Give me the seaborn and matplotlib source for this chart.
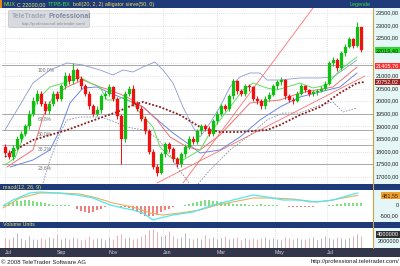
import numpy as np
import matplotlib
matplotlib.use("Agg")
import matplotlib.pyplot as plt
import matplotlib.transforms as mtrans
from matplotlib.patches import Rectangle, FancyBboxPatch
from matplotlib import font_manager
import seaborn as sns

sns.set_theme(style="white")


def has_font(name):
    try:
        font_manager.findfont(font_manager.FontProperties(family=name), fallback_to_default=False)
        return True
    except Exception:
        return False


BASE = "Liberation Sans" if has_font("Liberation Sans") else "DejaVu Sans"
NARROW = "Liberation Sans Narrow" if has_font("Liberation Sans Narrow") else BASE
plt.rcParams['font.family'] = [BASE, 'DejaVu Sans']

# ---------------- data ----------------
opens = [18200, 17950, 17800, 18150, 18500, 18700, 19000, 19500, 20000, 20300,
         19900, 19600, 19900, 20300, 20100, 20600, 21000, 20800, 21250, 20900,
         20600, 20300, 19800, 19500, 19650, 20200, 20300, 20550, 20100, 19400,
         18500, 20300, 20500, 19900, 19700, 19300, 18800, 18000, 17400, 17150,
         17900, 18300, 18100, 17700, 17500, 17900, 18200, 18500, 18400, 18800,
         19000, 18900, 18700, 19200, 19500, 19800, 19700, 20200, 20800, 20400,
         20300, 20600, 20550, 20100, 20000, 19800, 20100, 20250, 20600, 20750,
         20850, 20200, 20050, 20000, 20300, 20600, 20450, 20300, 20350, 20400,
         20500, 20700, 21500, 21650, 21300, 21900, 22150, 22450, 22200, 22950]
closes = [17950, 17800, 18150, 18500, 18700, 19000, 19500, 20000, 20300, 19900,
          19600, 19900, 20300, 20100, 20600, 21000, 20800, 21250, 20900, 20600,
          20300, 19800, 19500, 19650, 20200, 20300, 20550, 20100, 19400, 18500,
          20300, 20500, 19900, 19700, 19300, 18800, 18000, 17400, 17150, 17900,
          18300, 18100, 17700, 17500, 17900, 18200, 18500, 18400, 18800, 19000,
          18900, 18700, 19200, 19500, 19800, 19700, 20200, 20800, 20400, 20300,
          20600, 20550, 20100, 20000, 19800, 20100, 20250, 20600, 20750, 20850,
          20200, 20050, 20000, 20300, 20600, 20450, 20300, 20350, 20400, 20500,
          20700, 21500, 21650, 21300, 21900, 22150, 22450, 22200, 22950, 22019.4]
highs = [18300, 18050, 18250, 18600, 18800, 19100, 19650, 20150, 20450, 20400,
         20000, 20000, 20400, 20400, 20700, 21150, 21100, 21500, 21300, 21000,
         20700, 20400, 19900, 19800, 20300, 20400, 20700, 20600, 20150, 19500,
         20400, 20600, 20650, 20000, 19800, 19400, 18900, 18100, 17500, 18000,
         18400, 18400, 18200, 17800, 18000, 18300, 18600, 18600, 18900, 19100,
         19100, 19000, 19300, 19600, 19900, 19900, 20300, 20900, 20850, 20500,
         20700, 20700, 20600, 20200, 20100, 20200, 20350, 20700, 20850, 20950,
         20900, 20300, 20150, 20400, 20700, 20650, 20500, 20450, 20500, 20600,
         20800, 21600, 21750, 21700, 22000, 22250, 22550, 22500, 23150, 22950]
lows = [17850, 17700, 17650, 18050, 18400, 18600, 18900, 19400, 19900, 19800,
        19500, 19500, 19800, 20000, 20000, 20500, 20700, 20700, 20800, 20500,
        20200, 19700, 19400, 19400, 19550, 20100, 20200, 20000, 19300, 17500,
        18400, 20200, 19800, 19600, 19200, 18700, 17900, 17300, 17050, 17100,
        17800, 18000, 17600, 17400, 17400, 17800, 18100, 18300, 18300, 18700,
        18800, 18600, 18600, 19100, 19400, 19600, 19600, 20100, 20300, 20200,
        20200, 20400, 20000, 19900, 19700, 19700, 20000, 20200, 20500, 20650,
        20100, 19950, 19900, 19950, 20250, 20350, 20200, 20200, 20250, 20350,
        20450, 20650, 21400, 21200, 21250, 21800, 22100, 22100, 22150, 21950]

# overlay lines read at sparse points (x = bar index, y = price)
lips_x = [0, 2.5, 5, 8, 11.25, 15.5, 18.75, 21.25, 23.75, 25.5, 28, 29.5, 32, 33.75, 37, 38.75, 41.25,
          44.5, 48.75, 51.25, 53.75, 56.25, 59.5, 62, 65.5, 68, 70.5, 73.75, 77, 80.5, 83.75, 88]
lips_y = [17469, 17746, 18738, 20048, 20564, 20762, 20960, 20722, 20564, 20048, 20048, 20167, 19929, 19532,
          18976, 18183, 17786, 17667, 18064, 18738, 19254, 19770, 20445, 20722, 20524, 20445, 20564, 20722,
          20524, 20643, 21238, 21754]
teeth_x = [0.5, 7, 9.5, 12, 15.5, 19.5, 23.75, 26.25, 30.5, 34.5, 38, 41.25, 45.5, 48.75, 53.75, 61.25,
           68.75, 73.75, 82, 88]
teeth_y = [17389, 18064, 19373, 20167, 20564, 20841, 20564, 20445, 20167, 19770, 19254, 18580, 18183,
           18064, 18659, 19929, 20048, 20326, 20564, 21357]
jaw_x = [1.25, 7, 11.25, 13.75, 16.25, 19.5, 23, 26.25, 30.5, 34.5, 38.75, 42, 45.5, 48.75, 53.75, 58.75,
         63.75, 68.75, 73.75, 78.75, 83.75, 88]
jaw_y = [17389, 17667, 18064, 18857, 19929, 20524, 20564, 20326, 20048, 19770, 19175, 18738, 18342, 17945,
         18064, 18580, 19254, 19770, 20167, 20365, 20564, 21119]
upper_x = [0, 3.75, 7, 11.25, 15.5, 19.5, 23.75, 27, 29.5, 32, 34.5, 37.5, 39.5, 42, 44.5, 47, 48.75,
           51.25, 53.75, 56.25, 58.75, 61.25, 63.75, 65.5, 68.75, 73.75, 78.75, 82, 84.5, 88]
upper_y = [18857, 19849, 20722, 21238, 21516, 21437, 21238, 21040, 21238, 21159, 21357, 21556, 21238,
           20722, 19770, 18976, 18580, 19135, 19770, 20564, 20960, 21119, 21119, 20841, 20841, 20921,
           20921, 20960, 21238, 21635]
lower_x = [9.5, 11.25, 13.75, 15.5, 18.75, 23.75, 26.25, 30.5, 34.5, 38, 40.5, 43, 45.5, 47, 51.25,
           56.25, 61.25, 65.5, 69.5, 73.75, 78.75, 82, 84.5, 88]
lower_y = [16754, 17667, 18738, 19254, 19373, 19373, 19254, 18976, 18857, 18540, 18064, 17389, 16873,
           16476, 17270, 18064, 18659, 19254, 19532, 19532, 19849, 19968, 19572, 19730]
sma_x = [0, 1.25, 7, 15.5, 23.75, 28, 32, 34.5, 38.75, 43.75, 48.75, 53.75, 58.75, 65.5, 68.75, 73.75,
         78.75, 83.75, 88, 90]
sma_y = [17786, 17944, 18460, 18857, 19334, 19572, 19850, 19968, 19770, 19453, 18976, 18778, 18778,
         18857, 19056, 19453, 19770, 20326, 20722, 20762]
trend1_x = [44.5, 77]
trend1_y = [16754, 23698]
trend2_x = [38, 90]
trend2_y = [16754, 21000]

fib_levels = [21420, 19480, 18870, 18270, 17520]
fib_labels = ["100,0%", "61,8%", "50,0%", "38,2%", "23,6%"]

macd_x = [-0.5, 2, 6.25, 8.75, 13, 18, 22, 26.25, 29.5, 32, 34.5, 37, 38.75, 42, 47, 52, 57, 62, 65.5,
          69.5, 73.75, 78, 82, 86.25, 88.25]
macd_y = [-24, 262, 595, 643, 595, 500, 357, 24, -119, -214, -357, -690, -595, -452, -309, 24, 262, 500,
          405, 262, 262, 167, 262, 500, 595]
signal_x = [-0.5, 3.75, 8.75, 13.75, 18.75, 23, 27, 32, 36.25, 39.5, 43.75, 48.75, 53, 57, 62, 67, 72,
            76.25, 80.5, 84.5, 88.25]
signal_y = [-119, 357, 595, 595, 547, 357, 119, -71, -357, -452, -357, -214, 24, 167, 357, 357, 309, 167,
            214, 357, 481.55]
hist = [60, 100, 150, 200, 230, 240, 240, 220, 190, 150, 110, 70, 40,
        30, 20, 10, 10, -20,
        -150, -250, -330, -350, -300, -220, -150, -80,
        -40, -30, -60, -80, -50,
        -120, -200, -300, -400, -480, -520, -500, -430, -330, -230,
        -150, -80, -30, -10,
        40, 80, 130, 180, 220, 240, 240, 220, 200, 170, 140, 110, 90, 70, 60, 50, 40, 30,
        40, 50, 40, 30, 20, 10,
        -20, -40, -60, -80, -90, -90, -80, -60, -50, -40, -30, -10,
        20, 40, 60, 80, 100, 110, 120, 110, 100]
volume_m = [3.2, 2.8, 3.5, 4.9, 3.1, 2.6, 3.8, 3.0, 2.7, 3.4,
            2.9, 3.6, 3.1, 4.6, 2.8, 3.3, 2.9, 3.7, 3.2, 2.6,
            3.0, 3.9, 2.8, 3.4, 3.1, 2.7, 3.5, 3.0, 4.2, 4.4,
            3.3, 3.6, 2.9, 3.2, 3.8, 4.5, 5.8, 6.3, 5.2, 3.9,
            4.1, 5.6, 4.0, 3.3, 3.6, 4.8, 3.1, 2.9, 3.4, 3.0,
            4.1, 3.2, 3.5, 2.8, 3.3, 3.9, 2.9, 3.1, 3.6, 2.7,
            3.2, 3.0, 3.4, 2.8, 3.1, 3.5, 2.9, 3.3, 3.0, 2.7,
            3.6, 3.1, 2.8, 3.4, 3.0, 2.9, 3.2, 3.5, 2.7, 3.1,
            3.8, 3.3, 3.0, 3.6, 3.2, 2.9, 3.4, 3.9, 4.5, 4.0]
month_labels = ["Jul", "Sep", "Nov", "Jan", "Mar", "May", "Jul"]
month_pos = [0, 13, 26, 39.5, 53, 67.5, 80.5]
price_ticks = [17000, 17500, 18000, 18500, 19000, 19500, 20000, 20500, 21000, 22500, 23000, 23500]
marker_values = [22019.40, 21405.76, 20752.02]

# ---------------- figure ----------------
W, H = 400, 266
fig = plt.figure(figsize=(4.0, 2.66), dpi=100)
fig.patch.set_facecolor("white")


def rect(x0, y0, x1, y1):
    return [x0 / W, 1 - y1 / H, (x1 - x0) / W, (y1 - y0) / H]


bg = fig.add_axes([0, 0, 1, 1], zorder=0)
bg.set_xlim(0, W); bg.set_ylim(H, 0); bg.axis("off")
NAVY = "#1e3a78"
bg.add_patch(Rectangle((373, 8), 27, 240, fc="#e4f6f6", ec="none"))
bg.plot([373, 373], [8, 248], color="#d8a040", lw=0.8)
for (y0, y1) in [(0, 8), (184, 190), (222, 227.5)]:
    bg.add_patch(Rectangle((0, y0), W, y1 - y0, fc=NAVY, ec="none"))
bg.add_patch(Rectangle((0, 0), 2, 8, fc="#e08a20", ec="none"))
bg.add_patch(Rectangle((0, 248), W, 9, fc="#33364a", ec="none"))

N = len(closes)
idx = np.arange(N)
XL = (-0.75, 92)
TFS = 4.0

# ---------------- main price panel ----------------
ax = fig.add_axes(rect(2, 8, 373, 184), zorder=1)
ax.set_facecolor("none")
ax.set_xlim(*XL)
ax.set_ylim(16714, 23698)
for v in range(17000, 23501, 500):
    ax.axhline(v, color="#c8c8c8", lw=0.5, ls=(0, (1, 2)), zorder=0)
for p in month_pos:
    ax.axvline(p, color="#c8c8c8", lw=0.5, ls=(0, (1, 2)), zorder=0)
for lv, lb in zip(fib_levels, fib_labels):
    ax.axhline(lv, color="#a8a8a8", lw=0.7, zorder=1)
    ax.text(8.2, lv - 60, lb, fontsize=3.6, color="#707070", va="top", ha="left", zorder=2)

line_kw = dict(estimator=None, sort=False, legend=False, ax=ax)
sns.lineplot(x=trend1_x, y=trend1_y, color="#ff7070", linewidth=0.6, **line_kw)
sns.lineplot(x=trend2_x, y=trend2_y, color="#ff7070", linewidth=0.6, **line_kw)
sns.lineplot(x=upper_x, y=upper_y, color="#8c9ad0", linewidth=0.6, **line_kw)
sns.lineplot(x=lower_x, y=lower_y, color="#8890a8", linewidth=0.6, linestyle=(0, (2, 1.5)), **line_kw)
sns.lineplot(x=jaw_x, y=jaw_y, color="#6a88e0", linewidth=0.7, **line_kw)
sns.lineplot(x=teeth_x, y=teeth_y, color="#f07070", linewidth=0.7, **line_kw)
sns.lineplot(x=lips_x, y=lips_y, color="#60e060", linewidth=0.7, **line_kw)
sns.lineplot(x=sma_x, y=sma_y, color="#8b1a1a", linewidth=1.3, linestyle=(0, (1, 1)), **line_kw)

o = np.array(opens, float); c = np.array(closes, float)
up = c >= o
cols = np.where(up, "#10c010", "#f01010")
ax.vlines(idx, lows, highs, colors=cols, lw=0.7, zorder=4)
body_lo = np.minimum(o, c); body_h = np.maximum(np.abs(c - o), 25)
ax.bar(idx, body_h, bottom=body_lo, width=0.75, color=cols, edgecolor=cols, linewidth=0.2, zorder=5)
ax.set_xlabel(""); ax.set_ylabel("")
ax.set_xticks([]); ax.set_yticks([])
for s in ax.spines.values():
    s.set_visible(False)

blend = mtrans.blended_transform_factory(ax.transAxes, ax.transData)
xr = (399 - 2) / 371
for v in price_ticks:
    ax.text(xr, v, f"{v:.2f}".replace(".", ","), transform=blend, ha="right", va="center",
            fontsize=TFS, color="#202020", clip_on=False)
for val, fc, tc in zip(marker_values, ["#30d830", "#ff3030", "#a02020"], ["#003000", "#ffffff", "#ffffff"]):
    ax.text(xr, val, f"{val:.2f}".replace(".", ","), transform=blend, ha="right", va="center",
            fontsize=TFS, color=tc, clip_on=False, zorder=10,
            bbox=dict(boxstyle="square,pad=0.12", fc=fc, ec="none"))

# ---------------- MACD panel ----------------
am = fig.add_axes(rect(2, 190, 373, 222), zorder=1)
am.set_facecolor("none")
am.set_xlim(*XL)
am.set_ylim(-785, 738)
for p in month_pos:
    am.axvline(p, color="#c8c8c8", lw=0.5, ls=(0, (1, 2)), zorder=0)
h = np.array(hist, float)
am.bar(idx, h, width=0.6, color=np.where(h >= 0, "#7ee07e", "#f08080"), linewidth=0, zorder=2)
sns.lineplot(x=signal_x, y=signal_y, color="#e8b060", linewidth=0.8, estimator=None, sort=False,
             legend=False, ax=am)
sns.lineplot(x=macd_x, y=macd_y, color="#50e8f0", linewidth=0.9, estimator=None, sort=False,
             legend=False, ax=am)
am.set_xlabel(""); am.set_ylabel("")
am.set_xticks([]); am.set_yticks([])
for s in am.spines.values():
    s.set_visible(False)
bm = mtrans.blended_transform_factory(am.transAxes, am.transData)
am.text(xr, 0, "0", transform=bm, ha="right", va="center", fontsize=TFS, color="#202020", clip_on=False)
am.text(xr, -500, "-500,00", transform=bm, ha="right", va="center", fontsize=TFS, color="#202020",
        clip_on=False)
am.text(xr, 481.55, "481,55", transform=bm, ha="right", va="center", fontsize=TFS, color="#402000",
        clip_on=False, bbox=dict(boxstyle="square,pad=0.12", fc="#f0a030", ec="none"))

# ---------------- volume panel ----------------
av = fig.add_axes(rect(2, 227.5, 373, 248), zorder=1)
av.set_facecolor("none")
av.set_xlim(*XL)
av.set_ylim(0, 6.67e6)
for p in month_pos:
    av.axvline(p, color="#c8c8c8", lw=0.5, ls=(0, (1, 2)), zorder=0)
vol = np.array(volume_m) * 1e6
av.vlines(idx, 0, vol, colors=np.where(up, "#a8a8b0", "#e8a0a8"), lw=0.6)
av.set_xticks([]); av.set_yticks([])
for s in av.spines.values():
    s.set_visible(False)
bv = mtrans.blended_transform_factory(av.transAxes, av.transData)
av.text(xr, 2e6, "2000000", transform=bv, ha="right", va="center", fontsize=TFS, color="#202020",
        clip_on=False)
av.text(xr, 4.35e6, f"{int(vol[-1])}", transform=bv, ha="right", va="center", fontsize=TFS,
        color="#ffffff", clip_on=False, bbox=dict(boxstyle="square,pad=0.12", fc="#303030", ec="none"))
bx = mtrans.blended_transform_factory(av.transData, fig.transFigure)
for p, lb in zip(month_pos, month_labels):
    av.text(p, 1 - 252.5 / H, lb, transform=bx, ha="left", va="center", fontsize=3.8,
            color="#d0d0d8", clip_on=False)

# ---------------- overlay texts ----------------
ov = fig.add_axes([0, 0, 1, 1], zorder=5)
ov.set_xlim(0, W); ov.set_ylim(H, 0); ov.axis("off")
ov.patch.set_alpha(0)
renderer = fig.canvas.get_renderer()


def seq_text(x, y, parts, fs, family):
    """write coloured text pieces one after another"""
    for txt, col in parts:
        t = ov.text(x, y, txt, color=col, fontsize=fs, va="center", ha="left", family=family)
        bb = t.get_window_extent(renderer=renderer)
        x += bb.width * W / fig.bbox.width + 2.2


seq_text(3, 4.3, [("MUX", "#90e040"), ("C 22000,00", "#f0f060"), ("TTPB-BX", "#40e040"),
                  ("boll(20, 2, 2) alligator sieve(50, 0)", "#f0e060")], 3.9, NARROW)
ov.text(371, 4.3, "Legende", color="#40e040", fontsize=3.9, va="center", ha="right", family=NARROW)
ov.text(3, 187.2, "macd(12, 26, 9)", color="#f0e060", fontsize=3.9, va="center", family=NARROW)
ov.text(3, 225, "Volume Units", color="#f0e060", fontsize=3.9, va="center", family=NARROW)
ov.add_patch(FancyBboxPatch((9, 11), 80, 16, boxstyle="round,pad=0.5,rounding_size=1.5",
                            fc="#d4d6da", ec="#b8bcc4", lw=0.5, alpha=0.9))
t1 = ov.text(12, 17, "TeleTrader", color="#a0a8b8", fontsize=5.0, fontweight="bold", va="center",
             family=NARROW)
bb = t1.get_window_extent(renderer=renderer)
ov.text(12 + bb.width * W / fig.bbox.width + 1.2, 17, "Professional", color="#7e8aa2", fontsize=5.0,
        fontweight="bold", va="center", family=NARROW)
ov.text(22, 24.3, "http://professional.teletrader.com/", color="#8a90a0", fontsize=3.2, va="center")
ov.text(1, 262, "\u00a9 2008 TeleTrader Software AG", color="#202020", fontsize=4.3, va="center")
ov.text(399, 262, "http://professional.teletrader.com/", color="#202020", fontsize=4.3, va="center",
        ha="right")

fig.savefig("out.png", dpi=100, facecolor="white")
